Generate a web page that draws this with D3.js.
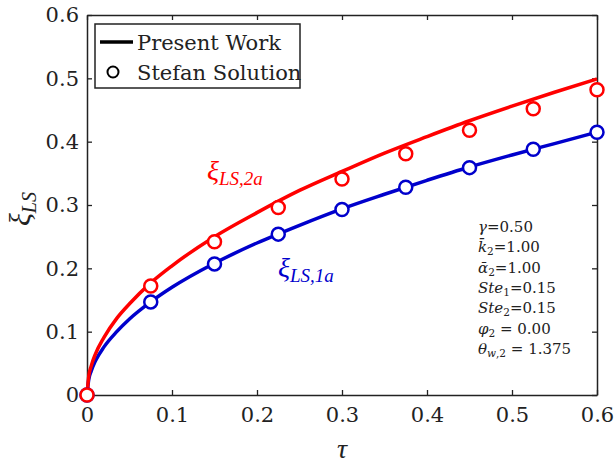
<!DOCTYPE html>
<html><head><meta charset="utf-8">
<script src="https://cdn.jsdelivr.net/npm/d3@7"></script>
<style>body{margin:0;background:#fff}svg{display:block}</style>
</head><body>
<svg id="c" width="615" height="468"></svg>
<script>
// ---- data ----
const tauCurve = [0, 0.002, 0.005, 0.01, 0.02, 0.035, 0.05, 0.075, 0.1, 0.15, 0.2, 0.25, 0.3, 0.35, 0.4, 0.45, 0.5, 0.55, 0.6];
const xi2aCurve = [0, 0.029, 0.046, 0.065, 0.091, 0.121, 0.144, 0.177, 0.204, 0.250, 0.288, 0.323, 0.353, 0.382, 0.408, 0.433, 0.456, 0.478, 0.499];
const xi1aCurve = [0, 0.024, 0.038, 0.054, 0.076, 0.100, 0.120, 0.147, 0.170, 0.208, 0.240, 0.268, 0.294, 0.317, 0.339, 0.360, 0.379, 0.397, 0.415];
const tauStefan = [0, 0.075, 0.15, 0.225, 0.3, 0.375, 0.45, 0.525, 0.6];
const xi1aStefan = [0, 0.147, 0.207, 0.254, 0.293, 0.328, 0.359, 0.388, 0.415];
const xi2aStefan = [0, 0.172, 0.242, 0.296, 0.341, 0.381, 0.418, 0.452, 0.482];
const xTicks = [0, 0.1, 0.2, 0.3, 0.4, 0.5, 0.6];
const yTicks = [0, 0.1, 0.2, 0.3, 0.4, 0.5, 0.6];
const legendLabels = ["Present Work", "Stefan Solution"];

const RED = "#ff0000", BLUE = "#0000cc";
const svg = d3.select("#c");
const L = 87, R = 597, T = 15, B = 395;
const x = d3.scaleLinear().domain([0, 0.6]).range([L, R]);
const y = d3.scaleLinear().domain([0, 0.6]).range([B, T]);
const tickFont = "'DejaVu Serif', serif";

// axes
const fmt = d => d === 0 ? "0" : d3.format(".1f")(d);
const gx = svg.append("g").attr("transform", `translate(0,${B})`)
  .call(d3.axisBottom(x).tickValues(xTicks).tickFormat(fmt).tickSizeInner(-5).tickSizeOuter(0).tickPadding(12));
const gy = svg.append("g").attr("transform", `translate(${L},0)`)
  .call(d3.axisLeft(y).tickValues(yTicks).tickFormat(fmt).tickSizeInner(-5).tickSizeOuter(0).tickPadding(8));
const gx2 = svg.append("g").attr("transform", `translate(0,${T})`)
  .call(d3.axisTop(x).tickValues(xTicks).tickFormat("").tickSizeInner(-5).tickSizeOuter(0));
const gy2 = svg.append("g").attr("transform", `translate(${R},0)`)
  .call(d3.axisRight(y).tickValues(yTicks).tickFormat("").tickSizeInner(-5).tickSizeOuter(0));
[gx, gy, gx2, gy2].forEach(g => {
  g.select(".domain").attr("stroke", "#222").attr("stroke-width", 1.5);
  g.selectAll(".tick line").attr("stroke", "#222").attr("stroke-width", 1.3);
  g.selectAll("text").attr("font-family", tickFont).attr("font-size", 21).attr("fill", "#222");
});

// lines
const line = d3.line().x(d => x(d[0])).y(d => y(d[1])).curve(d3.curveMonotoneX);
const series = [
  {c: BLUE, cv: xi1aCurve, st: xi1aStefan},
  {c: RED, cv: xi2aCurve, st: xi2aStefan}
];
series.forEach(s => {
  svg.append("path").datum(tauCurve.map((t, i) => [t, s.cv[i]]))
    .attr("d", line).attr("fill", "none").attr("stroke", s.c).attr("stroke-width", 3.5);
});
series.forEach(s => {
  svg.append("g").selectAll("circle").data(tauStefan.map((t, i) => [t, s.st[i]])).join("circle")
    .attr("cx", d => x(d[0])).attr("cy", d => y(d[1])).attr("r", 6.5)
    .attr("fill", "#fff").attr("stroke", s.c).attr("stroke-width", 2.5);
});

// axis labels
const mathFont = "'Liberation Serif', serif";
const yl = svg.append("text").attr("transform", "translate(30,209) rotate(-90)")
  .attr("text-anchor", "middle").attr("font-family", mathFont).attr("font-style", "italic").attr("fill", "#222");
yl.append("tspan").attr("font-size", 30).text("ξ");
yl.append("tspan").attr("font-size", 20).attr("dy", 6).text("LS");
svg.append("text").attr("x", x(0.3)).attr("y", 458).attr("text-anchor", "middle")
  .attr("font-family", mathFont).attr("font-style", "italic").attr("font-size", 28).attr("fill", "#222").text("τ");

// curve labels
function subLabel(xp, yp, color, sub) {
  const t = svg.append("text").attr("x", xp).attr("y", yp).attr("font-family", mathFont)
    .attr("font-style", "italic").attr("fill", color);
  t.append("tspan").attr("font-size", 28).text("ξ");
  t.append("tspan").attr("font-size", 19).attr("dy", 5).text(sub);
}
subLabel(207, 180, RED, "LS,2a");
subLabel(278, 277, BLUE, "LS,1a");

// parameter annotation
const annFont = "'DejaVu Serif', serif";
const ann = [
  [["γ", 1], ["=0.50", 0]],
  [["k̄", 1], ["2", 2], ["=1.00", 0]],
  [["ᾱ", 1], ["2", 2], ["=1.00", 0]],
  [["Ste", 1], ["1", 2], ["=0.15", 0]],
  [["Ste", 1], ["2", 2], ["=0.15", 0]],
  [["φ", 1], ["2", 2], [" = 0.00", 0]],
  [["θ", 1], ["w", 3], [",2", 2], [" = 1.375", 0]]
];
ann.forEach((parts, i) => {
  const t = svg.append("text").attr("x", 478).attr("y", 232 + i * 20.3)
    .attr("font-family", annFont).attr("font-size", 15).attr("fill", "#222");
  let sub = false;
  parts.forEach(([s, k]) => {
    const ts = t.append("tspan").text(s);
    if (k === 1) ts.attr("font-style", "italic");
    if (k === 2 || k === 3) {
      ts.attr("font-size", 10.5);
      if (k === 3) ts.attr("font-style", "italic");
      if (!sub) { ts.attr("dy", 3); sub = true; }
    } else if (sub) { ts.attr("dy", -3); sub = false; }
  });
});

// legend
const lg = svg.append("g");
lg.append("rect").attr("x", 95).attr("y", 24).attr("width", 205).attr("height", 64)
  .attr("fill", "#fff").attr("stroke", "#222").attr("stroke-width", 1.5);
lg.append("line").attr("x1", 100).attr("x2", 133).attr("y1", 42).attr("y2", 42)
  .attr("stroke", "#000").attr("stroke-width", 3.5);
lg.append("circle").attr("cx", 113).attr("cy", 72).attr("r", 5.5)
  .attr("fill", "#fff").attr("stroke", "#000").attr("stroke-width", 2);
legendLabels.forEach((s, i) => {
  lg.append("text").attr("x", 137).attr("y", 50 + i * 30).attr("font-family", tickFont)
    .attr("font-size", 21).attr("fill", "#222").text(s);
});
</script>
</body></html>
